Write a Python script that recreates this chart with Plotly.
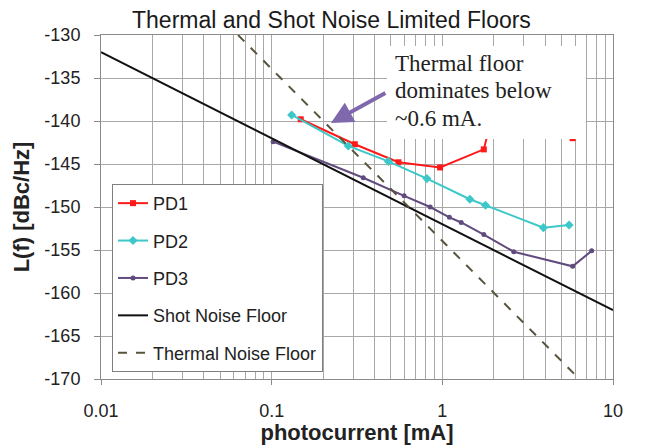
import plotly.graph_objects as go

# ---- data ----
pd1_x = [0.148, 0.307, 0.553, 0.97, 1.75, 2.1, 3.9, 5.8]
pd1_y = [-139.8, -142.7, -144.8, -145.4, -143.3, -137.0, -136.0, -142.0]

pd2_x = [0.131, 0.281, 0.483, 0.812, 1.45, 1.79, 3.91, 5.53]
pd2_y = [-139.3, -142.9, -144.7, -146.7, -149.1, -149.8, -152.4, -152.1]

pd3_x = [0.102, 0.344, 0.597, 0.849, 1.10, 1.29, 1.75, 2.62, 5.8, 7.5]
pd3_y = [-142.4, -146.6, -148.7, -150.0, -151.2, -151.8, -153.2, -155.2, -156.9, -155.1]

shot_x = [0.01, 10]
shot_y = [-132, -162]

thermal_x = [0.0635, 6.35]
thermal_y = [-130, -170]

x_tick_vals = [0.01, 0.1, 1, 10]
x_tick_text = ["0.01", "0.1", "1", "10"]
y_tick_vals = [-170, -165, -160, -155, -150, -145, -140, -135, -130]
y_tick_text = ["-170", "-165", "-160", "-155", "-150", "-145", "-140", "-135", "-130"]

SANS = "Liberation Sans, Arial, sans-serif"
SERIF = "Liberation Serif, Times New Roman, serif"
GRID = "#a8a8a8"
AXIS = "#8a8a8a"

fig = go.Figure()
fig.add_trace(go.Scatter(x=pd1_x, y=pd1_y, name="PD1", mode="lines+markers",
                         line=dict(color="#ff1a1a", width=2),
                         marker=dict(symbol="square", size=6, color="#ff1a1a"),
                         legendgroup="a"))
fig.add_trace(go.Scatter(x=pd2_x, y=pd2_y, name="PD2", mode="lines+markers",
                         line=dict(color="#3cc8c8", width=2),
                         marker=dict(symbol="diamond", size=7, color="#3cc8c8"),
                         legendgroup="b"))
fig.add_trace(go.Scatter(x=pd3_x, y=pd3_y, name="PD3", mode="lines+markers",
                         line=dict(color="#614a7d", width=2),
                         marker=dict(symbol="circle", size=5, color="#614a7d"),
                         legendgroup="c"))
fig.add_trace(go.Scatter(x=shot_x, y=shot_y, name="Shot Noise Floor", mode="lines",
                         line=dict(color="#111111", width=2), legendgroup="d"))
fig.add_trace(go.Scatter(x=thermal_x, y=thermal_y, name="Thermal Noise Floor", mode="lines",
                         line=dict(color="#58543c", width=2, dash="dash"), legendgroup="e"))

minor_vals = [m * d for d in (0.01, 0.1, 1) for m in range(2, 10)]

fig.update_xaxes(type="log", range=[-2, 1],
                 tickvals=x_tick_vals, ticktext=x_tick_text,
                 ticks="outside", ticklen=5, tickcolor=AXIS,
                 showgrid=True, gridcolor=GRID, gridwidth=1,
                 minor=dict(tickvals=minor_vals, showgrid=True, gridcolor=GRID, gridwidth=1, ticks=""),
                 showline=True, linecolor=AXIS, linewidth=1, mirror=True,
                 zeroline=False, ticklabelstandoff=10,
                 tickfont=dict(family=SANS, size=18, color="#222222"),
                 title=dict(text="<b>photocurrent [mA]</b>", standoff=2,
                            font=dict(family=SANS, size=22, color="#222222")))
fig.update_yaxes(range=[-170, -130], tickvals=y_tick_vals, ticktext=y_tick_text,
                 ticks="outside", ticklen=6, tickcolor=AXIS,
                 showgrid=True, gridcolor=GRID, gridwidth=1,
                 showline=True, linecolor=AXIS, linewidth=1, mirror=True,
                 zeroline=False, ticklabelstandoff=10,
                 tickfont=dict(family=SANS, size=18, color="#222222"),
                 title=dict(text="<b>L(f) [dBc/Hz]</b>", standoff=8,
                            font=dict(family=SANS, size=22, color="#222222")))

# page has an 8px body margin: figure is 638x437 placed at (8,8)
fig.update_layout(
    width=638, height=437,
    margin=dict(l=93, r=33, t=27, b=66, autoexpand=False),
    paper_bgcolor="white", plot_bgcolor="white",
    title=dict(text="Thermal and Shot Noise Limited Floors", x=0.507, xanchor="center",
               y=0.9725, yanchor="middle", font=dict(family=SANS, size=23, color="#1a1a1a")),
    legend=dict(x=0.0215, y=0.567, xanchor="left", yanchor="top",
                bgcolor="white", bordercolor="#7f7f7f", borderwidth=1,
                font=dict(family=SANS, size=18, color="#222222"),
                traceorder="grouped", tracegroupgap=11, itemwidth=30),
    showlegend=True,
)

# annotation box (white, covering grid and data)
fig.add_shape(type="rect", xref="paper", yref="paper",
              x0=0.5586, x1=0.947, y0=0.698, y1=0.968,
              fillcolor="white", line=dict(width=0), layer="above")
for txt, yy in [("Thermal floor", 0.9166), ("dominates below", 0.839), ("~0.6 mA.", 0.7587)]:
    fig.add_annotation(text=txt, xref="paper", yref="paper", x=0.570, y=yy,
                       xanchor="left", yanchor="middle", showarrow=False,
                       font=dict(family=SERIF, size=23, color="#222222"))
fig.add_annotation(text="", xref="paper", yref="paper", x=0.449, y=0.744,
                   ax=56, ay=-31, showarrow=True, arrowhead=2, arrowsize=1.1,
                   arrowwidth=4, arrowcolor="#8068ad")

fig.write_html("out.html")
